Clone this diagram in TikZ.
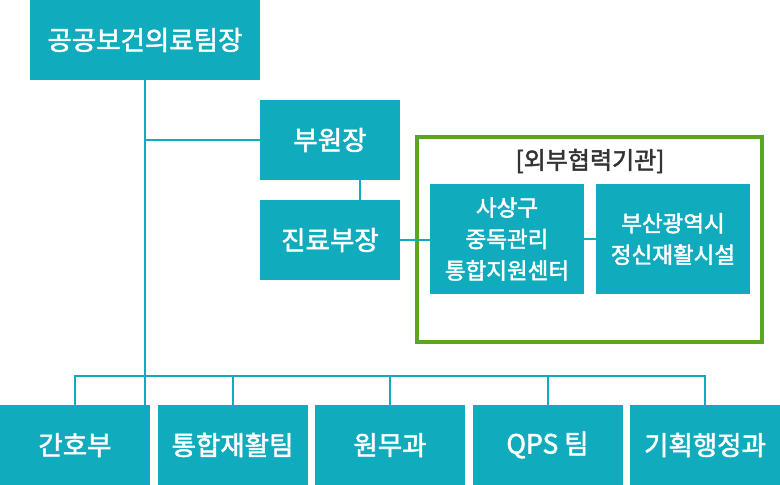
\documentclass[tikz,border=0pt]{standalone}
\usepackage{fontspec}
\setmainfont{Noto Sans CJK KR}[FakeBold=2]
\usetikzlibrary{calc}
\definecolor{teal}{HTML}{11ABBE}
\definecolor{frame}{HTML}{5AA61E}
\definecolor{titlegray}{HTML}{333333}
\tikzset{
  box/.style={fill=teal, draw=none, text=white, inner sep=0pt, align=center,
    font=\fontsize{26.5}{30}\selectfont},
  bigbox/.style={box, minimum width=140pt, minimum height=80pt},
  extbox/.style={box, minimum width=154pt, minimum height=110pt,
    font=\fontsize{22.5}{31.5}\selectfont},
  botbox/.style={box, minimum width=150pt, minimum height=80pt},
  link/.style={draw=teal, line width=2pt}
}
\begin{document}
\begin{tikzpicture}[x=1pt, y=-1pt]
\useasboundingbox (0,0) rectangle (780,485);
\node[box, minimum width=230pt, minimum height=80pt] (top) at (145,40) {공공보건의료팀장};
\node[bigbox] (vice) at (330,140) {부원장};
\node[bigbox] (chief) at (330,240) {진료부장};
\draw[frame, line width=4pt] (417,137) rectangle (762,342);
\node[text=titlegray, font=\fontsize{24}{26}\selectfont] (ttl) at (590,161) {[외부협력기관]};
\node[extbox] (e1) at (507,239) {사상구\\중독관리\\통합지원센터};
\node[extbox] (e2) at (673,239) {부산광역시\\정신재활시설};
\node[botbox] (b1) at (75,445) {간호부};
\node[botbox] (b2) at (232.5,445) {통합재활팀};
\node[botbox] (b3) at (390,445) {원무과};
\node[botbox] (b4) at (547.5,445) {QPS 팀};
\node[botbox] (b5) at (705,445) {기획행정과};
\coordinate (bus) at (0,376);
\coordinate (vj) at (145,140);
\draw[link] (top.south -| vj) -- (b1.north -| vj);
\draw[link] (vj) -- (vice.west);
\draw[link] ($(vice.south)+(30,0)$) -- ($(chief.north)+(30,0)$);
\draw[link] (chief.east) -- (e1.west |- chief.east);
\draw[link] (e1.east) -- (e2.west);
\draw[link] (b1.north) -- (b1.north |- bus) -- (b5.north |- bus) -- (b5.north);
\draw[link] (b2.north) -- (b2.north |- bus);
\draw[link] (b3.north) -- (b3.north |- bus);
\draw[link] (b4.north) -- (b4.north |- bus);
\end{tikzpicture}
\end{document}
